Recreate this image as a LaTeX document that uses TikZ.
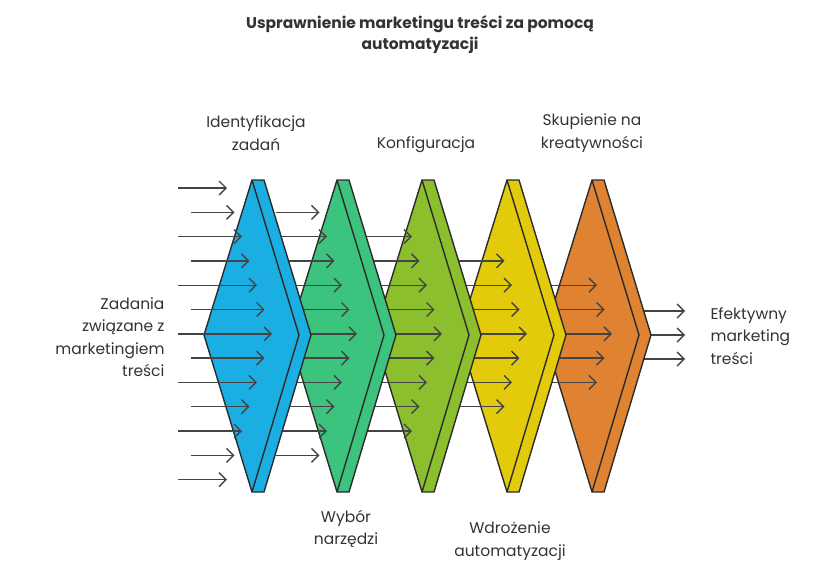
\documentclass[tikz,border=0pt]{standalone}
\usepackage{fontspec}
\setmainfont{Poppins}
\usetikzlibrary{positioning,arrows.meta}

\definecolor{cBlue}{HTML}{1AAEE3}
\definecolor{cGreen}{HTML}{3CC37E}
\definecolor{cLime}{HTML}{8CBF2E}
\definecolor{cYellow}{HTML}{E3CB0C}
\definecolor{cOrange}{HTML}{DF8231}
\definecolor{cLine}{HTML}{2B2B2B}
\definecolor{cArrow}{HTML}{444444}

\tikzset{
  chev/.style={draw=cLine, line width=1.4pt, line join=miter},
  flow/.style={draw=cArrow, line width=1.4pt, -{Straight Barb[length=7pt,width=14pt]}},
  lbl/.style={font=\fontsize{15.5}{22.5}\selectfont, text=black!80, align=center},
}

\begin{document}
\begin{tikzpicture}[x=1pt,y=-1pt]
\useasboundingbox (0,0) rectangle (840,576);

% output arrows
\foreach \y in {311,335,359} {
    \draw[flow] (640,\y) -- (685,\y);
}

% stages, drawn right to left
\foreach \k/\col in {4/cOrange, 3/cYellow, 2/cLime, 1/cGreen, 0/cBlue} {
    \begin{scope}[xshift=85*\k]
    \draw[chev, fill=\col] (204,335) -- (252,180) -- (264,180) -- (311,335) -- (264,492) -- (252,492) -- cycle;
    \draw[chev] (252,180) -- (299,335) -- (252,492);
    \pgfmathtruncatemacro{\last}{12-\k}
    \foreach \i in {\k,...,\last} {
        \pgfmathsetmacro{\yy}{188+24.3*\i}
        \pgfmathsetmacro{\xa}{isodd(\i) ? 191 : 178}
        \pgfmathsetmacro{\xb}{227+7.5*(6-abs(\i-6))}
        \draw[flow] (\xa,\yy) -- (\xb,\yy);
    }
    \end{scope}
}

\node[lbl, font=\fontsize{15.5}{21}\selectfont\bfseries] (title) at (420,35) {Usprawnienie marketingu treści za pomocą\\automatyzacji};
\node[lbl] (ident) at (256,133) {Identyfikacja\\zadań};
\node[lbl] (konf) at (426,145) {Konfiguracja};
\node[lbl] (skup) at (592,133) {Skupienie na\\kreatywności};
\node[lbl] (wyb) at (346,529) {Wybór\\narzędzi};
\node[lbl] (wdr) at (510,541) {Wdrożenie\\automatyzacji};
\node[lbl, align=right, anchor=east] (zad) at (168,337) {Zadania\\związane z\\marketingiem\\treści};
\node[lbl, align=left, anchor=west] (efek) at (707,336) {Efektywny\\marketing\\treści};
\end{tikzpicture}
\end{document}
